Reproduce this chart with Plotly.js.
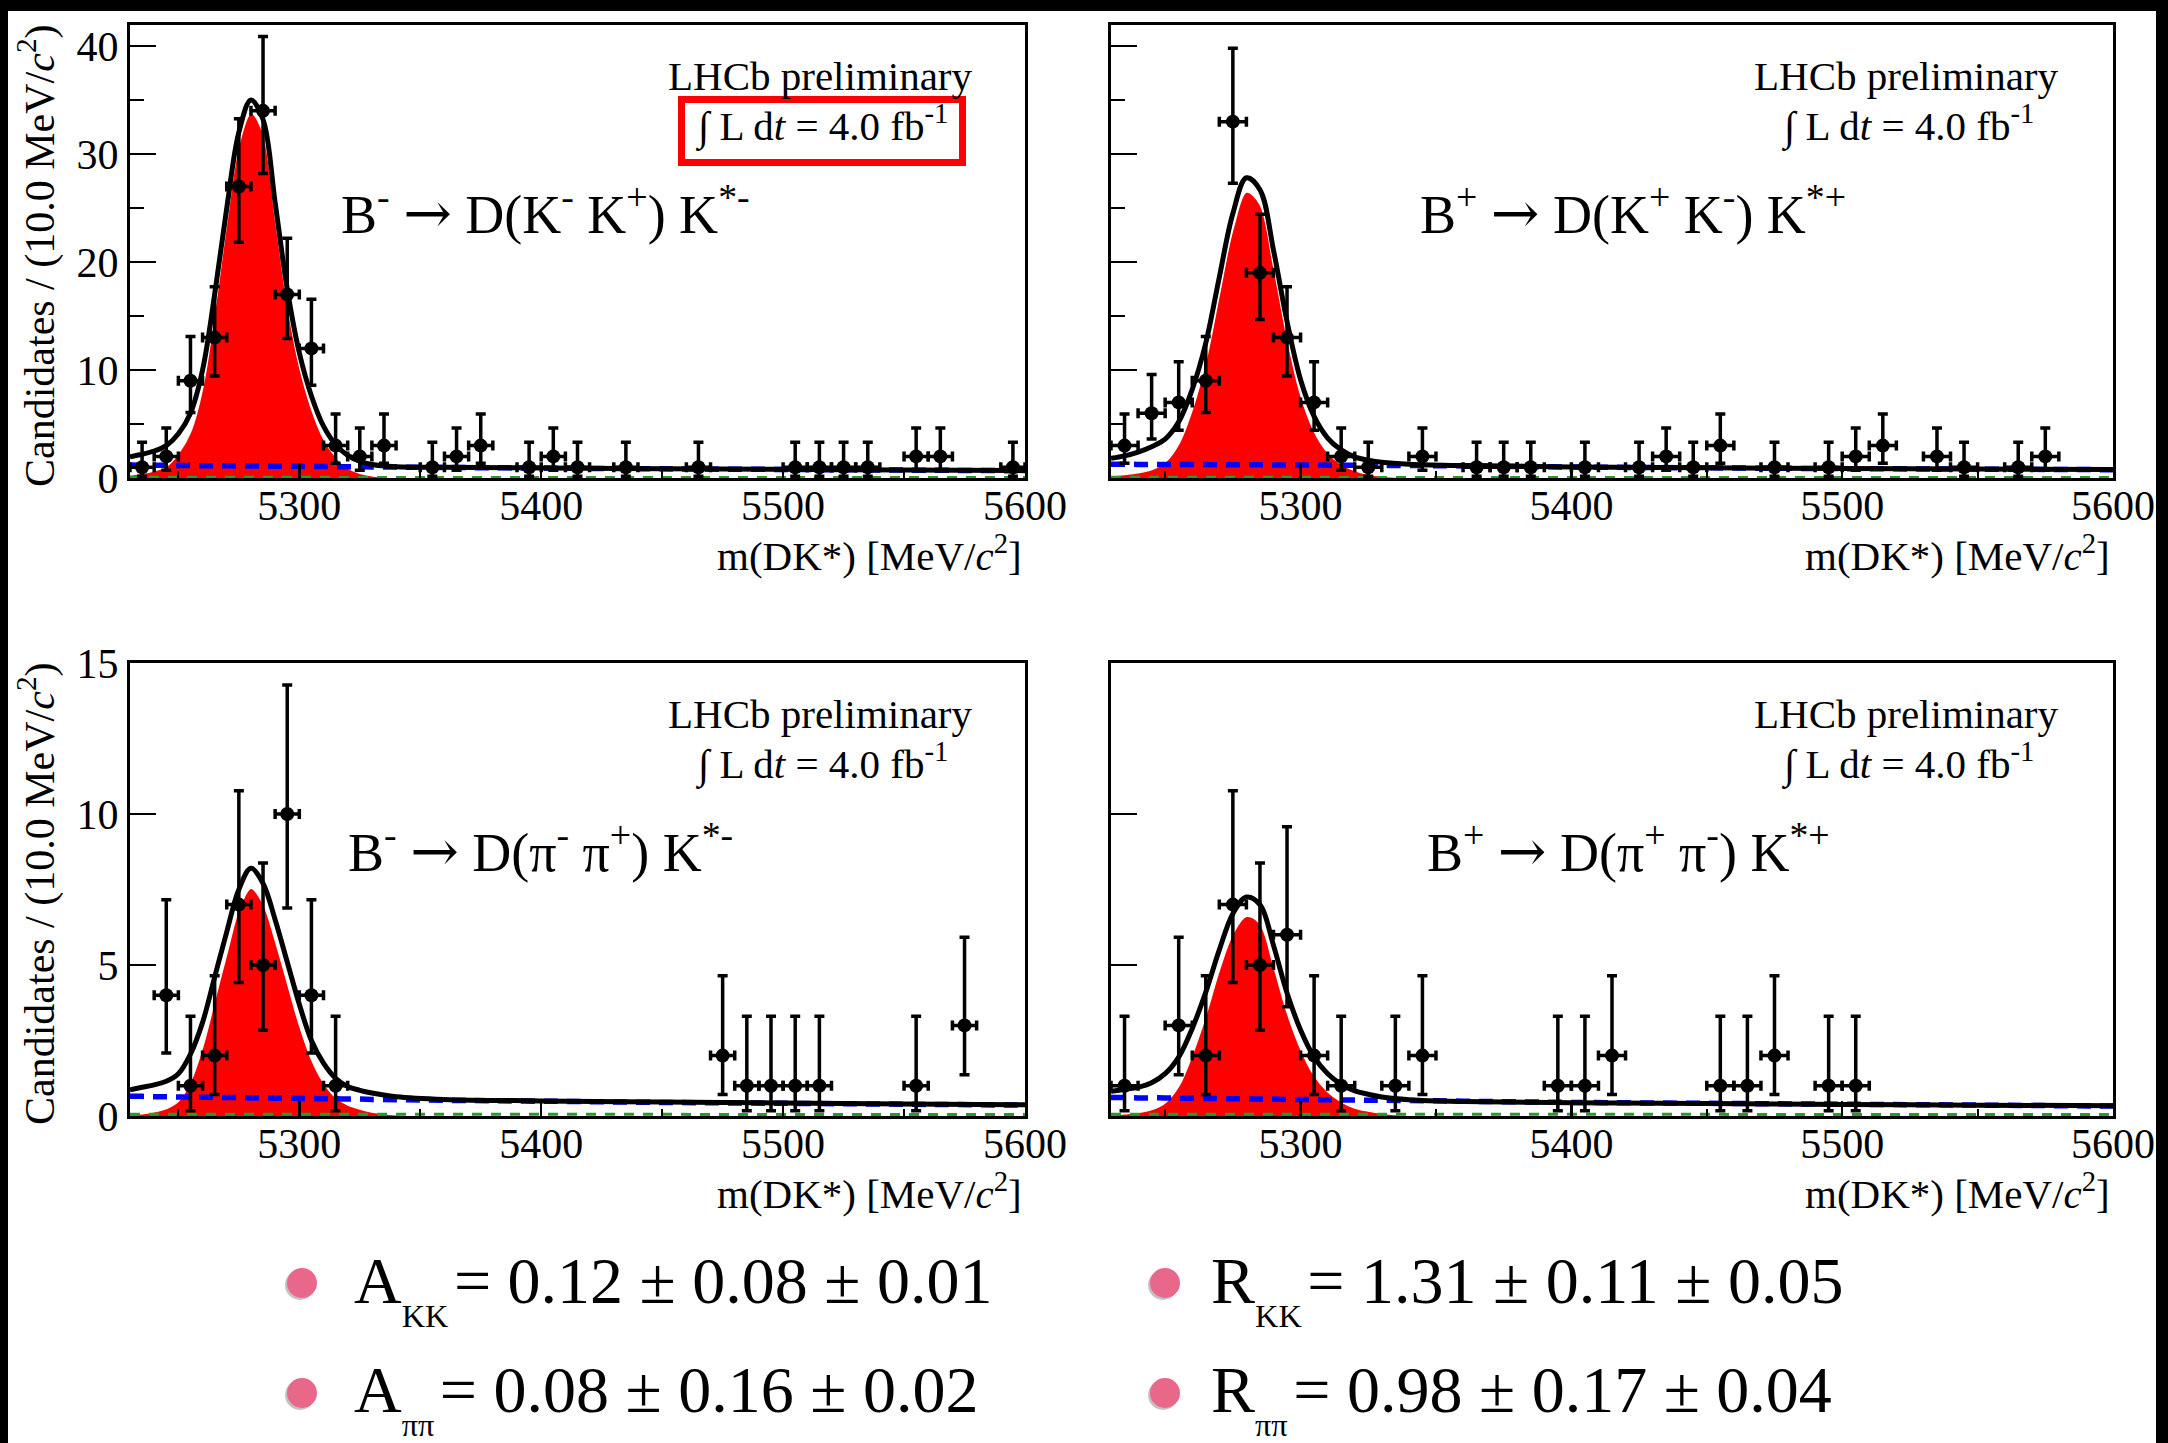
<!DOCTYPE html>
<html><head><meta charset="utf-8">
<script src="https://cdn.plot.ly/plotly-3.0.1.min.js"></script>
<style>html,body{margin:0;padding:0;background:#fff;} #chart{width:2168px;height:1443px;}</style>
</head><body><div id="chart"></div>
<script>
// ---------------- DATA ----------------
const binHalfWidth = 5; // MeV, 10 MeV bins

// Poisson (Garwood 68%) error table used by the plot
const poissonN  = [1,2,3,4,5,6,7,9,10,12,13,17,19,27,33,34];
const poissonHi = [2.30,2.64,2.92,3.16,3.38,3.58,3.77,4.11,4.27,4.56,4.70,5.20,5.43,6.26,6.80,6.88];
const poissonLo = [0.83,1.29,1.63,1.91,2.16,2.38,2.58,2.94,3.11,3.41,3.55,4.08,4.32,5.16,5.71,5.80];

// Panel 1: B- -> D(K- K+) K*-
const massKKm  = [5235,5245,5255,5265,5275,5285,5295,5305,5315,5325,5335,5355,5365,5375,5395,5405,5415,5435,5465,5505,5515,5525,5535,5555,5565,5595];
const countKKm = [1,2,9,13,27,34,17,12,3,2,3,1,2,3,1,2,1,1,1,1,1,1,1,2,2,1];
// Panel 2: B+ -> D(K+ K-) K*+
const massKKp  = [5235,5245,5255,5265,5275,5285,5295,5305,5315,5325,5345,5365,5375,5385,5405,5425,5435,5445,5455,5475,5495,5505,5515,5535,5545,5565,5575];
const countKKp = [3,6,7,9,33,19,13,7,2,1,2,1,1,1,1,1,2,1,3,1,1,2,3,2,1,1,2];
// Panel 3: B- -> D(pi- pi+) K*-
const massPPm  = [5245,5255,5265,5275,5285,5295,5305,5315,5475,5485,5495,5505,5515,5555,5575];
const countPPm = [4,1,2,7,5,10,4,1,2,1,1,1,1,1,3];
// Panel 4: B+ -> D(pi+ pi-) K*+
const massPPp  = [5235,5255,5265,5275,5285,5295,5305,5315,5335,5345,5395,5405,5415,5455,5465,5475,5495,5505];
const countPPp = [1,3,2,7,5,6,2,1,1,2,1,1,2,1,1,2,1,1];

// Fit curves
const curveX = [5230,5235,5240,5245,5250,5255,5260,5265,5270,5275,5280,5285,5290,5295,5300,5305,5310,5315,5320,5325,5330,5340,5360,5400,5450,5500,5550,5600];
const totalKKm  = [1.97,2.2,2.5,3.0,4.1,6.0,10.0,17.0,25.0,32.0,35.0,33.2,25.5,17.5,11.6,7.6,4.8,3.1,2.1,1.55,1.25,1.05,0.99,0.93,0.86,0.8,0.74,0.68];
const signalKKm = [0.3,0.45,0.7,1.1,2.3,4.3,8.4,15.6,23.8,30.9,33.8,32.0,24.4,16.4,10.5,6.5,3.7,2.0,0.95,0.45,0.22,0.05,0,0,0,0,0,0];
const combKKm   = [1.2,1.19,1.18,1.17,1.16,1.15,1.14,1.14,1.13,1.12,1.11,1.10,1.09,1.09,1.08,1.07,1.06,1.05,1.04,1.04,1.03,1.01,0.98,0.92,0.85,0.79,0.73,0.67];

const totalKKp  = [1.82,2.05,2.4,2.9,3.6,5.2,8.2,12.5,18.6,24.5,27.8,26.7,21.1,14.5,9.1,5.7,3.7,2.6,1.95,1.65,1.45,1.27,1.15,1.03,0.95,0.88,0.83,0.79];
const signalKKp = [0.25,0.35,0.5,0.8,1.5,3.2,6.4,10.9,17.1,23.1,26.5,25.4,19.8,13.2,7.8,4.4,2.4,1.3,0.72,0.38,0.2,0.05,0,0,0,0,0,0];
const combKKp   = [1.27,1.27,1.26,1.26,1.25,1.25,1.24,1.24,1.23,1.23,1.22,1.22,1.21,1.21,1.2,1.2,1.19,1.19,1.18,1.18,1.17,1.16,1.12,1.02,0.94,0.87,0.82,0.77];

const totalPPm  = [0.87,0.95,1.03,1.15,1.4,2.05,3.1,4.6,6.1,7.5,8.2,7.7,6.5,5.1,3.7,2.5,1.75,1.25,0.98,0.85,0.76,0.64,0.55,0.5,0.46,0.43,0.4,0.37];
const signalPPm = [0.05,0.08,0.15,0.25,0.5,1.15,2.3,3.85,5.4,6.85,7.55,7.05,5.85,4.45,3.05,1.9,1.12,0.63,0.38,0.24,0.14,0.05,0,0,0,0,0,0];
const combPPm   = [0.65,0.65,0.64,0.64,0.63,0.63,0.62,0.62,0.61,0.61,0.6,0.6,0.59,0.59,0.58,0.58,0.57,0.57,0.56,0.56,0.55,0.54,0.52,0.49,0.45,0.42,0.39,0.36];

const totalPPp  = [0.82,0.88,0.95,1.1,1.4,1.95,2.9,4.1,5.5,6.7,7.25,7.0,5.65,4.07,2.85,1.95,1.4,1.05,0.83,0.72,0.63,0.54,0.48,0.44,0.41,0.38,0.36,0.34];
const signalPPp = [0.05,0.08,0.12,0.22,0.45,1.0,2.05,3.35,4.85,6.05,6.62,6.38,5.02,3.46,2.25,1.36,0.82,0.48,0.27,0.17,0.1,0.03,0,0,0,0,0,0];
const combPPp   = [0.61,0.61,0.6,0.6,0.6,0.59,0.59,0.58,0.58,0.57,0.57,0.56,0.56,0.55,0.55,0.54,0.54,0.53,0.53,0.52,0.52,0.51,0.49,0.45,0.42,0.39,0.36,0.33];

const greenX = [5230, 5600];
const greenY = [0.06, 0.05];

// Text
const ARROW = '<span style="font-family:DejaVu Serif;font-size:58px">\u2192</span>';
const decayLabels = [
  'B<sup>-</sup> ' + ARROW + ' D(K<sup>-</sup> K<sup>+</sup>) K<sup>*-</sup>',
  'B<sup>+</sup> ' + ARROW + ' D(K<sup>+</sup> K<sup>-</sup>) K<sup>*+</sup>',
  'B<sup>-</sup> ' + ARROW + ' D(\u03c0<sup>-</sup> \u03c0<sup>+</sup>) K<sup>*-</sup>',
  'B<sup>+</sup> ' + ARROW + ' D(\u03c0<sup>+</sup> \u03c0<sup>-</sup>) K<sup>*+</sup>'
];
const resultSymbols = ['A', 'R', 'A', 'R'];
const resultSubs = ['KK', 'KK', '\u03c0\u03c0', '\u03c0\u03c0'];
const resultValues = ['= 0.12 \u00b1 0.08 \u00b1 0.01', '= 1.31 \u00b1 0.11 \u00b1 0.05',
                      '= 0.08 \u00b1 0.16 \u00b1 0.02', '= 0.98 \u00b1 0.17 \u00b1 0.04'];

// ---------------- LAYOUT HELPERS ----------------
const W = 2168, H = 1443;
const px = x => x / W;
const py = y => 1 - y / H;
const SERIF = '"Liberation Serif", "Times New Roman", serif';

function errHi(counts){ return counts.map(c => poissonHi[poissonN.indexOf(c)]); }
function errLo(counts){ return counts.map(c => poissonLo[poissonN.indexOf(c)]); }

function panelTraces(k, mass, counts, total, signal, comb){
  const xa = k === 1 ? 'x' : 'x' + k;
  const ya = k === 1 ? 'y' : 'y' + k;
  return [
    {x: curveX, y: signal, xaxis: xa, yaxis: ya, type: 'scatter', mode: 'lines',
     fill: 'tozeroy', fillcolor: '#ff0000', line: {color: '#ffffff', width: 2, shape: 'spline', smoothing: 1},
     hoverinfo: 'skip', showlegend: false},
    {x: greenX, y: greenY, xaxis: xa, yaxis: ya, type: 'scatter', mode: 'lines',
     line: {color: '#2a9a2a', width: 3, dash: '10px,9px'}, hoverinfo: 'skip', showlegend: false},
    {x: curveX, y: comb, xaxis: xa, yaxis: ya, type: 'scatter', mode: 'lines',
     line: {color: '#0000ff', width: 5.5, dash: '14px,9px', shape: 'spline', smoothing: 1}, hoverinfo: 'skip', showlegend: false},
    {x: curveX, y: total, xaxis: xa, yaxis: ya, type: 'scatter', mode: 'lines',
     line: {color: '#000000', width: 5, shape: 'spline', smoothing: 1}, hoverinfo: 'skip', showlegend: false},
    {x: mass, y: counts, xaxis: xa, yaxis: ya, type: 'scatter', mode: 'markers',
     marker: {color: '#000000', size: 14, symbol: 'circle'},
     error_y: {type: 'data', symmetric: false, array: errHi(counts), arrayminus: errLo(counts),
               color: '#000000', thickness: 3.5, width: 5},
     error_x: {type: 'constant', value: binHalfWidth, color: '#000000', thickness: 3.5, width: 5},
     cliponaxis: false, hoverinfo: 'skip', showlegend: false}
  ];
}

const traces = [].concat(
  panelTraces(1, massKKm, countKKm, totalKKm, signalKKm, combKKm),
  panelTraces(2, massKKp, countKKp, totalKKp, signalKKp, combKKp),
  panelTraces(3, massPPm, countPPm, totalPPm, signalPPm, combPPm),
  panelTraces(4, massPPp, countPPp, totalPPp, signalPPp, combPPp)
);

function xAxis(x0, x1, anchor){
  return {domain: [px(x0), px(x1)], anchor: anchor, range: [5230, 5600],
    tickmode: 'linear', tick0: 5300, dtick: 100, ticks: 'inside', ticklen: 15, tickwidth: 2.5, tickcolor: '#000',
    minor: {dtick: 50, tick0: 5250, ticks: 'inside', ticklen: 7, tickwidth: 2, tickcolor: '#000', showgrid: false},
    ticklabelstandoff: -11,
    showline: true, linewidth: 3, linecolor: '#000', mirror: true, showgrid: false, zeroline: false,
    tickfont: {family: SERIF, size: 42, color: '#000'}, fixedrange: true};
}
function yAxis(y0, y1, anchor, range, vals, minorVals, labels){
  return {domain: [py(y1), py(y0)], anchor: anchor, range: range,
    tickmode: 'array', tickvals: vals, ticks: 'inside', ticklen: 26, tickwidth: 2.5, tickcolor: '#000',
    minor: minorVals.length ? {tickmode: 'array', tickvals: minorVals, ticks: 'inside', ticklen: 14, tickwidth: 2, tickcolor: '#000', showgrid: false} : undefined,
    showticklabels: labels, showline: true, linewidth: 3, linecolor: '#000', mirror: true, showgrid: false, zeroline: false,
    tickfont: {family: SERIF, size: 42, color: '#000'}, fixedrange: true};
}

const topVals = [0, 10, 20, 30, 40], topMinor = [5, 15, 25, 35];
const botVals = [0, 5, 10, 15];

const annotations = [];
function ann(text, x, y, size, opts){
  annotations.push(Object.assign({text: text, x: px(x), y: py(y), xref: 'paper', yref: 'paper',
    showarrow: false, xanchor: 'center', yanchor: 'middle',
    font: {family: SERIF, size: size, color: '#000'}}, opts || {}));
}

const panels = [
  {left: 130, right: 1025, top: 25, lhcbX: 820, decayX: 339},
  {left: 1111, right: 2113, top: 25, lhcbX: 1906, decayX: 1418},
  {left: 130, right: 1025, top: 663, lhcbX: 820, decayX: 346},
  {left: 1111, right: 2113, top: 663, lhcbX: 1906, decayX: 1425}
];
panels.forEach((p, i) => {
  const dy = p.top - 25;
  ann('LHCb preliminary', p.lhcbX, 76 + dy, 41);
  ann('\u222b L d<i>t</i> = 4.0 fb<sup>-1</sup>', p.lhcbX + 1, 124 + dy, 41);
  ann(decayLabels[i], p.decayX, 211 + dy, 54, {xanchor: 'left'});
  ann('m(DK*) [MeV/<i>c</i><sup>2</sup>]', p.right - 1, 553 + dy, 41, {xanchor: 'right'});
});
// y titles
ann('Candidates / (10.0 MeV/<i>c</i><sup>2</sup>)', 37, 256, 42, {textangle: -90});
ann('Candidates / (10.0 MeV/<i>c</i><sup>2</sup>)', 37, 894, 42, {textangle: -90});

// results at the bottom: one text per result, subscript nested twice for a small, low index
const resRows = [1289, 1289, 1398, 1398];
const resX = [352, 1209, 352, 1209];
for (let i = 0; i < 4; i++){
  ann(resultSymbols[i] + '<sub><sub>' + resultSubs[i] + '</sub></sub>\u200a' + resultValues[i],
      resX[i], resRows[i], 66, {xanchor: 'left'});
}

const shapes = [];
function rectPx(x0, y0, x1, y1, style){
  shapes.push(Object.assign({type: 'rect', xref: 'paper', yref: 'paper',
    x0: px(x0), x1: px(x1), y0: py(y1), y1: py(y0)}, style));
}
// black frame of the slide
rectPx(0, 0, W, 11, {fillcolor: '#000', line: {width: 0}, layer: 'above'});
rectPx(0, 0, 8, H, {fillcolor: '#000', line: {width: 0}, layer: 'above'});
rectPx(2156, 0, W, H, {fillcolor: '#000', line: {width: 0}, layer: 'above'});
// red highlight box around luminosity in panel 1
rectPx(681.5, 99.5, 962.5, 162.5, {fillcolor: 'rgba(0,0,0,0)', line: {color: '#ff0000', width: 7}, layer: 'above'});
// bullets
const bullets = [[302, 1283], [1165, 1283], [302, 1393], [1165, 1393]];
bullets.forEach(b => {
  shapes.push({type: 'circle', xref: 'paper', yref: 'paper', x0: px(b[0] - 17), x1: px(b[0] + 13), y0: py(b[1] + 17), y1: py(b[1] - 13),
    fillcolor: 'rgba(120,120,120,0.45)', line: {width: 0}, layer: 'above'});
  shapes.push({type: 'circle', xref: 'paper', yref: 'paper', x0: px(b[0] - 15), x1: px(b[0] + 15), y0: py(b[1] + 15), y1: py(b[1] - 15),
    fillcolor: '#e9688a', line: {width: 0}, layer: 'above'});
});

const layout = {
  width: W, height: H, margin: {l: 0, r: 0, t: 0, b: 0},
  paper_bgcolor: '#ffffff', plot_bgcolor: '#ffffff', showlegend: false,
  xaxis:  xAxis(130, 1025, 'y'),
  yaxis:  yAxis(25, 478, 'x', [0, 41.95], topVals, topMinor, true),
  xaxis2: xAxis(1111, 2113, 'y2'),
  yaxis2: yAxis(25, 478, 'x2', [0, 41.95], topVals, topMinor, false),
  xaxis3: xAxis(130, 1025, 'y3'),
  yaxis3: yAxis(663, 1116, 'x3', [0, 15], botVals, [], true),
  xaxis4: xAxis(1111, 2113, 'y4'),
  yaxis4: yAxis(663, 1116, 'x4', [0, 15], botVals, [], false),
  annotations: annotations,
  shapes: shapes
};

Plotly.newPlot('chart', traces, layout, {displayModeBar: false, staticPlot: true});
</script></body></html>
